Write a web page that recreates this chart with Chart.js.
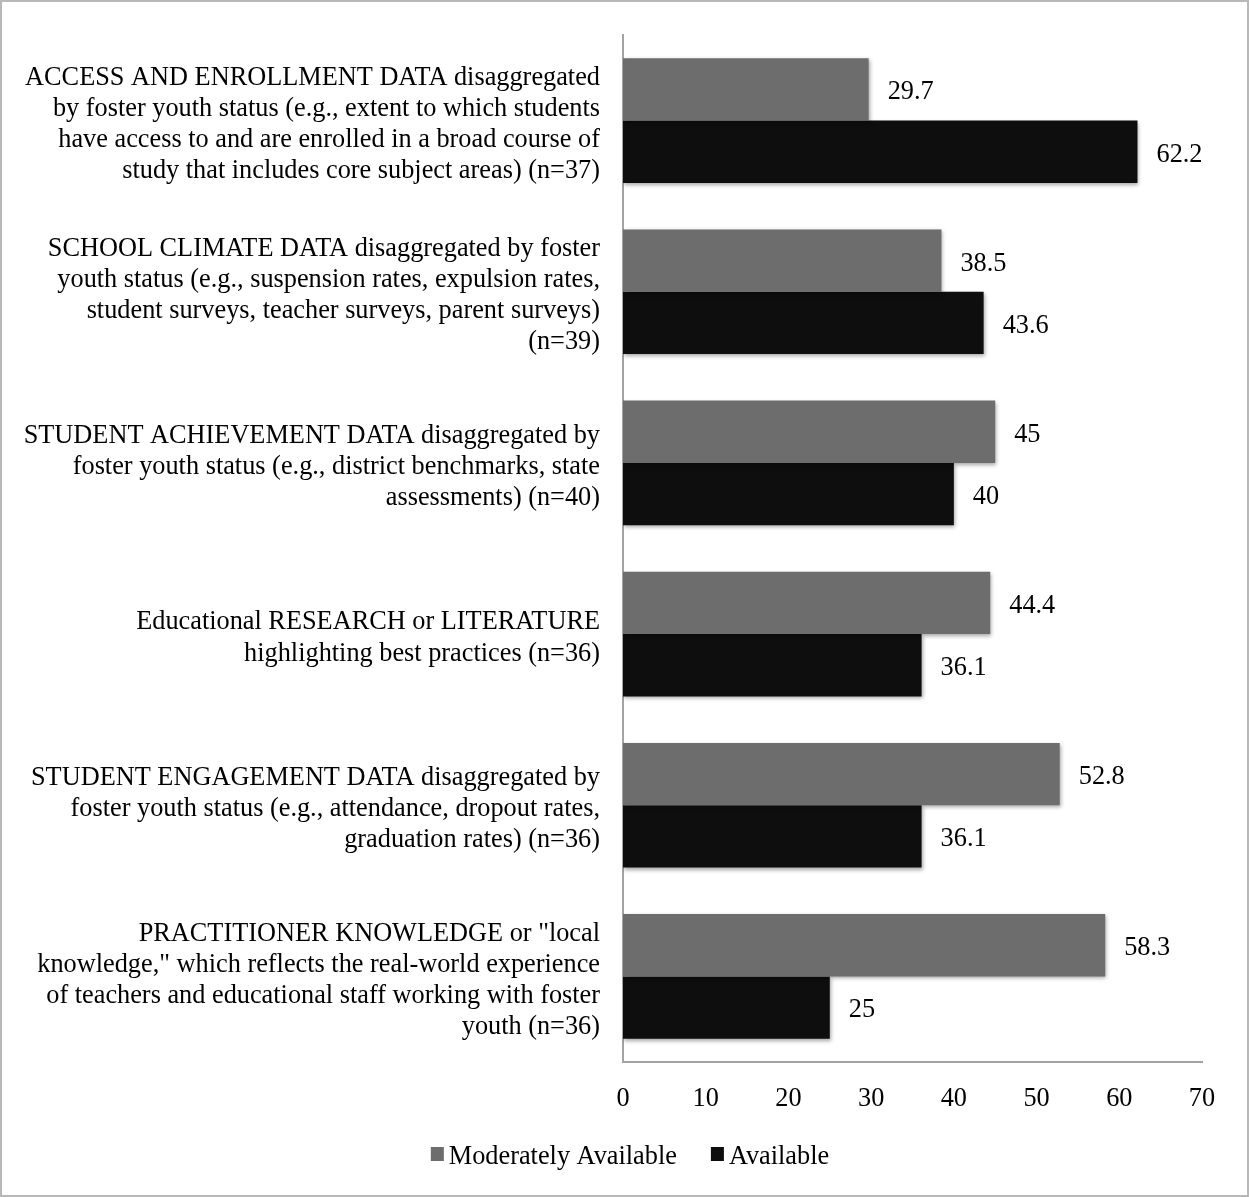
<!DOCTYPE html>
<html>
<head>
<meta charset="utf-8">
<script src="https://cdn.jsdelivr.net/npm/chart.js@4.4.0/dist/chart.umd.min.js"></script>
<style>
  html, body { margin: 0; padding: 0; background: #fff; }
  canvas { display: block; }
</style>
</head>
<body>
<canvas id="chart" width="1249" height="1197"></canvas>
<script>
// datos del gráfico
const categories = [
    ['ACCESS AND ENROLLMENT DATA disaggregated', 'by foster youth status (e.g., extent to which students', 'have access to and are enrolled in a broad course of', 'study that includes core subject areas) (n=37)'],
    ['SCHOOL CLIMATE DATA disaggregated by foster', 'youth status (e.g., suspension rates, expulsion rates,', 'student surveys, teacher surveys, parent surveys)', '(n=39)'],
    ['STUDENT ACHIEVEMENT DATA disaggregated by', 'foster youth status (e.g., district benchmarks, state', 'assessments) (n=40)'],
    ['Educational RESEARCH or LITERATURE', 'highlighting best practices (n=36)'],
    ['STUDENT ENGAGEMENT DATA disaggregated by', 'foster youth status (e.g., attendance, dropout rates,', 'graduation rates) (n=36)'],
    ['PRACTITIONER KNOWLEDGE or "local', 'knowledge," which reflects the real-world experience', 'of teachers and educational staff working with foster', 'youth (n=36)']
];
const seriesNames = ['Moderately Available', 'Available'];
const moderatelyAvailable = [29.7, 38.5, 45, 44.4, 52.8, 58.3];
const available = [62.2, 43.6, 40, 36.1, 36.1, 25];
const xTicks = [0, 10, 20, 30, 40, 50, 60, 70];

const FONT = "'Liberation Serif', 'Times New Roman', serif";
const FSIZE = 26.3;
const colors = ['#6d6d6d', '#0e0e0e'];

// fondo blanco y marco
const framePlugin = {
    id: 'frame',
    beforeDraw(chart) {
        const ctx = chart.ctx;
        ctx.save();
        ctx.fillStyle = '#fff';
        ctx.fillRect(0, 0, chart.width, chart.height);
        ctx.restore();
    },
    afterDraw(chart) {
        const ctx = chart.ctx;
        ctx.save();
        ctx.strokeStyle = '#b8b8b8';
        ctx.lineWidth = 2;
        ctx.strokeRect(1, 1, chart.width - 2, chart.height - 2);
        ctx.restore();
    }
};

// sombra suave en las barras
const shadowPlugin = {
    id: 'barShadow',
    beforeDatasetsDraw(chart) {
        const ctx = chart.ctx;
        ctx.save();
        ctx.shadowColor = 'rgba(0,0,0,0.35)';
        ctx.shadowBlur = 4;
        ctx.shadowOffsetX = 1;
        ctx.shadowOffsetY = 2;
    },
    afterDatasetsDraw(chart) {
        chart.ctx.restore();
    }
};

// etiquetas de valor a la derecha de cada barra
const valueLabels = {
    id: 'valueLabels',
    afterDatasetsDraw(chart) {
        const ctx = chart.ctx;
        ctx.save();
        ctx.font = FSIZE + 'px ' + FONT;
        ctx.fillStyle = '#000';
        ctx.textAlign = 'left';
        ctx.textBaseline = 'middle';
        chart.data.datasets.forEach((ds, i) => {
            const meta = chart.getDatasetMeta(i);
            meta.data.forEach((bar, j) => {
                ctx.fillText(String(ds.data[j]), bar.x + 19, bar.y + 3);
            });
        });
        ctx.restore();
    }
};

// leyenda dibujada a mano
const customLegend = {
    id: 'customLegend',
    afterDraw(chart) {
        const ctx = chart.ctx;
        ctx.save();
        ctx.font = FSIZE + 'px ' + FONT;
        ctx.textBaseline = 'middle';
        const box = 13, gapText = 5, gapItem = 34;
        const widths = seriesNames.map(n => ctx.measureText(n).width);
        const total = widths.reduce((a, w) => a + box + gapText + w, 0) + gapItem;
        let x = 630 - total / 2;
        const yMid = 1157;
        seriesNames.forEach((name, i) => {
            ctx.fillStyle = colors[i];
            ctx.fillRect(x, yMid - 10, box, 14);
            x += box + gapText;
            ctx.fillStyle = '#000';
            ctx.fillText(name, x, yMid);
            x += widths[i] + gapItem;
        });
        ctx.restore();
    }
};

new Chart(document.getElementById('chart'), {
    type: 'bar',
    data: {
        labels: categories,
        datasets: [
            { label: seriesNames[0], data: moderatelyAvailable, backgroundColor: colors[0] },
            { label: seriesNames[1], data: available, backgroundColor: colors[1] }
        ]
    },
    options: {
        indexAxis: 'y',
        responsive: false,
        animation: false,
        devicePixelRatio: 1,
        categoryPercentage: 0.728,
        barPercentage: 1.0,
        layout: { padding: { top: 35, left: 3, right: 47, bottom: 75 } },
        plugins: {
            legend: { display: false },
            tooltip: { enabled: false }
        },
        scales: {
            x: {
                min: 0,
                max: 70,
                afterBuildTicks(scale) {
                    scale.ticks = xTicks.map(v => ({ value: v }));
                },
                afterFit(scale) { scale.height = 60; },
                grid: { display: false, drawTicks: false },
                border: { display: true, color: '#a3a3a3', width: 2 },
                ticks: {
                    padding: 21,
                    color: '#000',
                    font: { family: FONT, size: FSIZE }
                }
            },
            y: {
                afterFit(scale) {
                    scale.width = 620;
                    scale.paddingTop = 0;
                    scale.paddingBottom = 0;
                },
                grid: { display: false, drawTicks: false },
                border: { display: true, color: '#a3a3a3', width: 2 },
                ticks: {
                    padding: 23,
                    labelOffset: 4,
                    color: '#000',
                    autoSkip: false,
                    font: { family: FONT, size: FSIZE, lineHeight: 1.18 }
                }
            }
        }
    },
    plugins: [framePlugin, shadowPlugin, valueLabels, customLegend]
});
</script>
</body>
</html>
